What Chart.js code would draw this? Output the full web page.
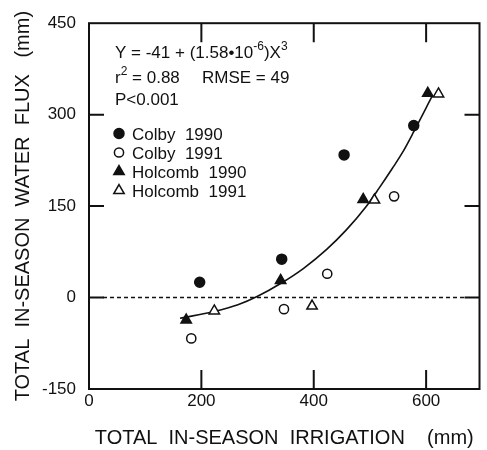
<!DOCTYPE html>
<html><head><meta charset="utf-8">
<script src="https://cdn.jsdelivr.net/npm/chart.js@4/dist/chart.umd.min.js"></script>
<style>html,body{margin:0;padding:0;background:#fff}#wrap{width:487px;height:450px;position:relative}</style>
</head><body><div id="wrap"><canvas id="c"></canvas></div>
<script>
const seriesNames = ['Colby  1990', 'Colby  1991', 'Holcomb  1990', 'Holcomb  1991'];
const colby1990X = [197, 343, 454, 578];
const colby1990Y = [25, 63, 234, 282];
const colby1991X = [182, 347, 424, 543];
const colby1991Y = [-67, -19, 39, 166];
const holcomb1990X = [173, 341, 488, 603];
const holcomb1990Y = [-37, 28, 161, 335];
const holcomb1991X = [223, 397, 508, 622];
const holcomb1991Y = [-22, -14, 160, 334];
const fitX = [162, 223, 265, 300, 341, 382, 423, 458, 493, 516, 540, 558, 578, 610];
const fitY = [-34, -23, -12, 2, 23, 48, 79, 111, 149, 179, 212, 238, 272, 329];
const xTicks = [0, 200, 400, 600];
const yTicks = [-150, 0, 150, 300, 450];
const xTitle = 'TOTAL  IN-SEASON  IRRIGATION    (mm)';
const yTitle = 'TOTAL  IN-SEASON  WATER  FLUX   (mm)';

const FONT = '"Liberation Sans", Arial, sans-serif';
const INK = '#111';
const pts = (xs, ys) => xs.map((v, i) => ({x: v, y: ys[i]}));

const styles = [
  {pointStyle: 'circle', fill: INK, r: 5},
  {pointStyle: 'circle', fill: '#fff', r: 4.6},
  {pointStyle: 'triangle', fill: INK, r: 6},
  {pointStyle: 'triangle', fill: '#fff', r: 6}
];
const seriesData = [pts(colby1990X, colby1990Y), pts(colby1991X, colby1991Y), pts(holcomb1990X, holcomb1990Y), pts(holcomb1991X, holcomb1991Y)];

const datasets = seriesNames.map((n, i) => ({
  type: 'scatter', label: n, data: seriesData[i], order: 1,
  pointStyle: styles[i].pointStyle, pointRadius: styles[i].r, pointHoverRadius: styles[i].r,
  backgroundColor: styles[i].fill, borderColor: INK, pointBorderWidth: 1.5
}));
datasets.push({
  type: 'line', label: 'fit', data: pts(fitX, fitY), order: 2,
  borderColor: INK, borderWidth: 1.6, pointRadius: 0, fill: false,
  cubicInterpolationMode: 'monotone'
});

function drawMarker(ctx, st, x, y) {
  ctx.save();
  ctx.lineWidth = 1.5; ctx.strokeStyle = INK; ctx.fillStyle = st.fill;
  ctx.beginPath();
  if (st.pointStyle === 'circle') {
    ctx.arc(x, y, st.r, 0, Math.PI * 2);
  } else {
    const r = st.r;
    for (let k = 0; k < 3; k++) {
      const a = k * 2 * Math.PI / 3;
      const px = x + Math.sin(a) * r, py = y - Math.cos(a) * r;
      if (k === 0) ctx.moveTo(px, py); else ctx.lineTo(px, py);
    }
    ctx.closePath();
  }
  ctx.fill(); ctx.stroke();
  ctx.restore();
}

function runs(ctx, x, y, parts) {
  for (const p of parts) {
    ctx.font = (p.sup ? '12px ' : '17px ') + FONT;
    ctx.fillText(p.t, x, p.sup ? y - 8 : y);
    x += ctx.measureText(p.t).width;
  }
  return x;
}

const framePlugin = {
  id: 'frame',
  beforeDatasetsDraw(chart) {
    const {ctx, chartArea: a, scales: {y}} = chart;
    const y0 = y.getPixelForValue(0);
    ctx.save();
    ctx.strokeStyle = INK; ctx.lineWidth = 1.4; ctx.setLineDash([4, 3]);
    ctx.beginPath(); ctx.moveTo(a.left + 14, y0); ctx.lineTo(a.right - 14, y0); ctx.stroke();
    ctx.restore();
  },
  afterDraw(chart) {
    const {ctx, chartArea: a, scales: {x, y}} = chart;
    ctx.save();
    ctx.strokeStyle = INK; ctx.lineWidth = 2; ctx.lineCap = 'butt';
    ctx.strokeRect(a.left, a.top, a.right - a.left, a.bottom - a.top);
    ctx.beginPath();
    yTicks.forEach(v => {
      if (v === yTicks[0] || v === yTicks[yTicks.length - 1]) return;
      const py = y.getPixelForValue(v);
      ctx.moveTo(a.left, py); ctx.lineTo(a.left + 15, py);
      ctx.moveTo(a.right, py); ctx.lineTo(a.right - 15, py);
    });
    xTicks.forEach(v => {
      if (v === xTicks[0]) return;
      const px = x.getPixelForValue(v);
      ctx.moveTo(px, a.bottom); ctx.lineTo(px, a.bottom - 19);
      ctx.moveTo(px, a.top); ctx.lineTo(px, a.top + 19);
    });
    ctx.stroke();
    ctx.restore();

    ctx.save();
    ctx.fillStyle = INK; ctx.textBaseline = 'alphabetic'; ctx.textAlign = 'left';
    const tx = a.left + 26;
    runs(ctx, tx, 58, [{t: 'Y = -41 + (1.58\u202210'}, {t: '-6', sup: true}, {t: ')X'}, {t: '3', sup: true}]);
    runs(ctx, tx, 83, [{t: 'r'}, {t: '2', sup: true}, {t: ' = 0.88'}]);
    runs(ctx, a.left + 113, 83, [{t: 'RMSE = 49'}]);
    runs(ctx, tx, 105, [{t: 'P<0.001'}]);
    ctx.font = '17px ' + FONT;
    const base = [139.5, 158.5, 177.5, 196.5];
    seriesNames.forEach((n, i) => {
      drawMarker(ctx, styles[i], a.left + 30, base[i] - 6);
      ctx.fillStyle = INK;
      ctx.fillText(n, a.left + 43, base[i]);
    });
    ctx.restore();
  }
};

new Chart(document.getElementById('c'), {
  data: {datasets},
  options: {
    responsive: true, maintainAspectRatio: false, animation: false,
    layout: {padding: {top: 17, right: 2, bottom: 0, left: 0}},
    plugins: {legend: {display: false}, tooltip: {enabled: false}},
    scales: {
      x: {
        type: 'linear', min: 0, max: 695,
        afterBuildTicks: s => { s.ticks = xTicks.map(v => ({value: v})); },
        afterFit: s => { s.height = 61; },
        grid: {display: false, drawTicks: false}, border: {display: false},
        ticks: {font: {size: 17, family: FONT}, color: INK, padding: 2, maxRotation: 0},
        title: {display: true, text: xTitle, font: {size: 20, family: FONT}, color: INK, padding: {top: 0, bottom: 0}}
      },
      y: {
        type: 'linear', min: -150, max: 450,
        afterBuildTicks: s => { s.ticks = yTicks.map(v => ({value: v})); },
        afterFit: s => { s.width = 89; },
        grid: {display: false, drawTicks: false}, border: {display: false},
        ticks: {font: {size: 17, family: FONT}, color: INK, padding: 13},
        title: {display: true, text: yTitle, font: {size: 20, family: FONT}, color: INK, padding: {top: 11, bottom: 0}}
      }
    }
  },
  plugins: [framePlugin]
});
</script></body></html>
